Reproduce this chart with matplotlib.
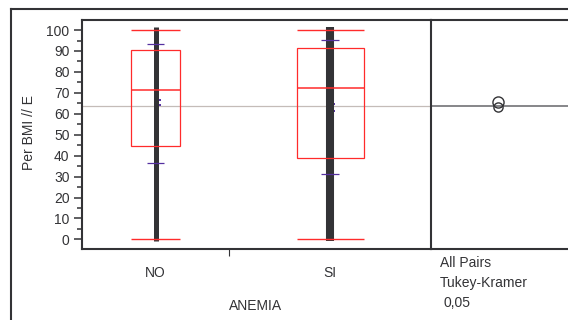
import matplotlib.pyplot as plt
from matplotlib.lines import Line2D

plt.rcParams['font.family'] = ['Liberation Sans', 'DejaVu Sans']

# groups and summary statistics of Per BMI // E
groups = ["NO", "SI"]
q_min = [0, 0]
q1 = [44.5, 38.9]
median = [71.3, 72.4]
q3 = [90.4, 91.5]
q_max = [100, 100]
mean = [65.4, 63.1]
se = [1.2, 1.6]
sd_lo = [36.4, 31.4]
sd_hi = [93.4, 95.1]
grand_mean = 63.8
box_width = [0.281, 0.384]
divider = 0.421

W, H = 568, 320
fig = plt.figure(figsize=(W / 100, H / 100), dpi=100)

def rect(x0, y0, x1, y1):
    return [x0 / W, 1 - y1 / H, (x1 - x0) / W, (y1 - y0) / H]

dark = '#333336'
red = '#ff2b2b'
purple = '#5530a0'
fs = 10

# comparison circles panel (drawn first so the main frame sits on top)
ax2 = fig.add_axes(rect(431, 20, 575, 249))
ax2.patch.set_visible(False)

ax = fig.add_axes(rect(82, 20, 431, 249))
ax.patch.set_visible(False)
ax.set_xlim(-0.421, 1.578)
ax.set_ylim(-4.6, 104.8)

ax.axhline(grand_mean, color='#c4bcb8', lw=0.9, zorder=1)

for i, g in enumerate(groups):
    w = box_width[i]
    # mean +/- SE marks, mostly hidden behind the data column
    for v in (mean[i] - se[i], mean[i] + se[i]):
        ax.hlines(v, i - 0.005, i + 0.03, color=purple, lw=1.4, zorder=2)
    # data column
    ax.vlines(i, q_min[i] - 0.6, q_max[i] + 1.6, color=dark,
              lw=3.6 if i == 0 else 5.8, zorder=3)
    # quantile box
    ax.add_patch(plt.Rectangle((i - w / 2, q1[i]), w, q3[i] - q1[i],
                               fill=False, ec=red, lw=0.9, zorder=4))
    ax.hlines(median[i], i - w / 2, i + w / 2, color=red, lw=1.1, zorder=4)
    ax.hlines([q_min[i], q_max[i]], i - w / 2, i + w / 2, color=red, lw=1.0, zorder=4)
    # mean +/- SD ticks
    ax.hlines([sd_lo[i], sd_hi[i]], i - 0.05, i + 0.05, color=purple, lw=0.9, zorder=4)

ax.set_yticks(range(0, 101, 10))
ax.set_yticks(range(5, 100, 10), minor=True)
ax.set_xticks(range(len(groups)))
ax.set_xticklabels(groups)
ax.set_xticks([divider], minor=True)
ax.tick_params(axis='y', which='major', length=6, width=1.1, colors=dark,
               labelsize=fs, pad=3)
ax.tick_params(axis='y', which='minor', length=3.5, width=1.1, colors=dark)
ax.tick_params(axis='x', which='major', length=0, labelsize=fs, pad=12,
               labelcolor=dark)
ax.tick_params(axis='x', which='minor', length=5, width=0.8, color=dark)
for s in ax.spines.values():
    s.set_color(dark)
    s.set_linewidth(1.5)

ax2.set_xlim(0, 1)
ax2.set_ylim(ax.get_ylim())
ax2.axhline(grand_mean, color='#66666a', lw=1.1, zorder=1)
circle_size = [8.0, 6.6]
for i in range(len(groups)):
    ax2.plot(0.465, mean[i], 'o', ms=circle_size[i], mfc='none',
             mec=dark, mew=1.0, zorder=3)
ax2.set_xticks([])
ax2.set_yticks([])
ax2.spines['left'].set_visible(False)
ax2.spines['right'].set_visible(False)
for s in ('top', 'bottom'):
    ax2.spines[s].set_color(dark)
    ax2.spines[s].set_linewidth(1.5)

# outer frame
fig.add_artist(Line2D([11 / W, 1], [1 - 9 / H] * 2, color=dark, lw=1.5))
fig.add_artist(Line2D([11 / W] * 2, [1 - 9 / H, 0], color=dark, lw=1.5))

fig.text(29 / W, 1 - 133 / H, "Per BMI // E", rotation=90, ha='center',
         va='center', fontsize=fs, color=dark)
fig.text(256 / W, 1 - 306 / H, "ANEMIA", ha='center', va='center',
         fontsize=fs, color=dark)
fig.text(440 / W, 1 - 263 / H, "All Pairs", ha='left', va='center',
         fontsize=fs, color=dark)
fig.text(440 / W, 1 - 283 / H, "Tukey-Kramer", ha='left', va='center',
         fontsize=fs, color=dark)
fig.text(444 / W, 1 - 303 / H, "0,05", ha='left', va='center',
         fontsize=fs, color=dark)

fig.savefig('out.png', dpi=100)
